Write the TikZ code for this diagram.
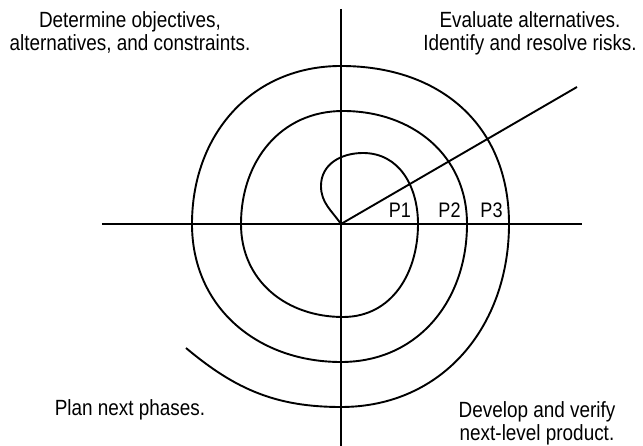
\documentclass[tikz,border=0pt]{standalone}
\usepackage{fontspec}
\setmainfont{Liberation Sans}[FakeStretch=0.86]
\begin{document}
\begin{tikzpicture}[x=1pt,y=1pt,
  axis/.style={line width=1.9pt},
  spiral/.style={line width=1.9pt, looseness=1.05},
  lbl/.style={font=\fontsize{22}{23}\selectfont, align=center, anchor=base, inner sep=0pt},
  plbl/.style={font=\fontsize{21}{22}\selectfont, anchor=base, inner sep=0pt}]
\useasboundingbox (-341,224) rectangle (302,-222);
\coordinate (O) at (0,0);
\coordinate (T) at (0,215);
\coordinate (B) at (0,-222);
\coordinate (L) at (-239,0);
\coordinate (R) at (241,0);
\coordinate (D) at (236,137);
\draw[axis] (T) -- (B);
\draw[axis] (L) -- (R);
\draw[axis] (O) -- (D);
\draw[spiral] (O) to[out=125,in=-90,looseness=1] (-20,38)
  to[out=90,in=180] (22,71)
  to[out=0,in=90] (77,0)
  to[out=-90,in=0] (2,-93)
  to[out=180,in=-90] (-100,0)
  to[out=90,in=180] (2,113)
  to[out=0,in=90] (126,0)
  to[out=-90,in=0] (0,-138)
  to[out=180,in=-90] (-149,0)
  to[out=90,in=180] (0,158)
  to[out=0,in=90,looseness=1.1] (168,0)
  to[out=-90,in=0] (0,-183)
  to[out=180,in=-40,looseness=1] (-155,-124);
\node[plbl] (p1) at (59,6) {P1};
\node[plbl] (p2) at (108.5,6) {P2};
\node[plbl] (p3) at (150.5,6) {P3};
\node[lbl] (tl) at (-211,173) {Determine objectives,\\alternatives, and constraints.};
\node[lbl] (tr) at (189,173) {Evaluate alternatives.\\Identify and resolve risks.};
\node[lbl] (bl) at (-211,-192) {Plan next phases.};
\node[lbl] (br) at (196,-217) {Develop and verify\\next-level product.};
\end{tikzpicture}
\end{document}
